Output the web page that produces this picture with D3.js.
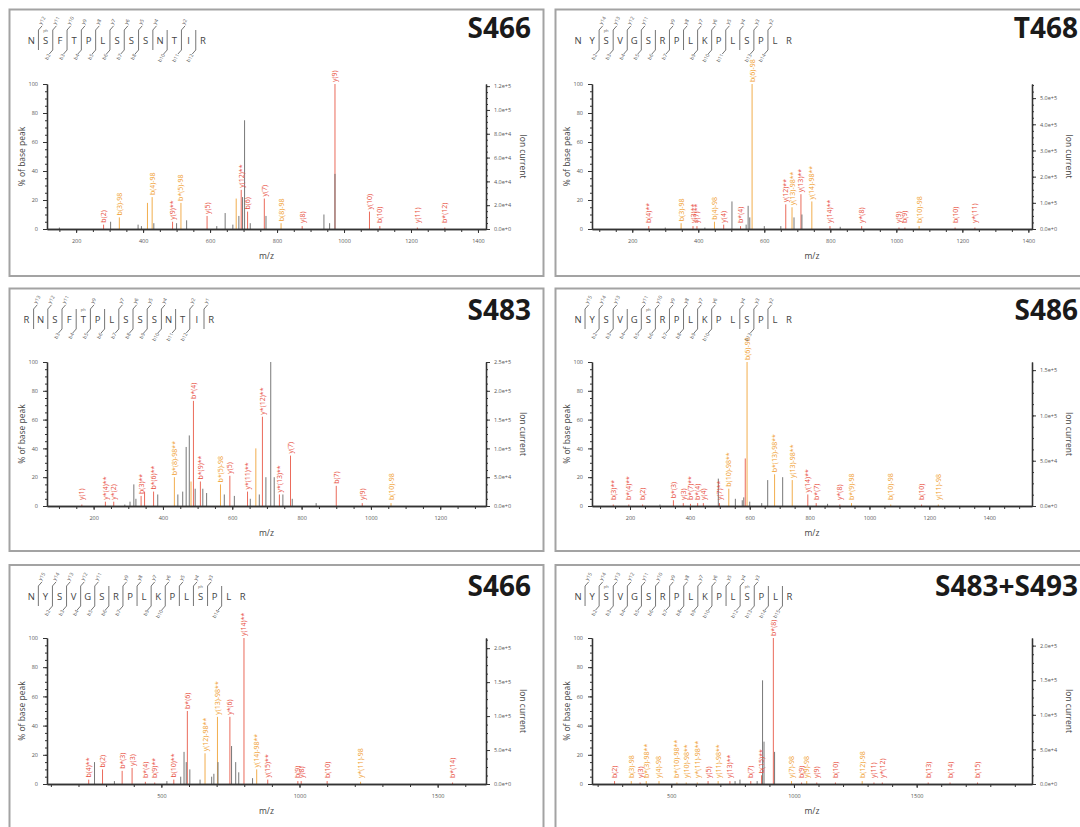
<!DOCTYPE html>
<html><head><meta charset="utf-8">
<script src="https://cdn.jsdelivr.net/npm/d3@7"></script>
<style>body{margin:0;background:#fff}svg{display:block}</style>
</head><body>
<svg id="c" width="1080" height="827"></svg>
<script>
// ---------------- DATA ----------------
const titles = ["S466", "T468", "S483", "S486", "S466", "S483+S493"];
const sequences = ["NSFTPLSSSNTIR", "NYSVGSRPLKPLSPLR", "RNSFTPLSSSNTIR",
                   "NYSVGSRPLKPLSPLR", "NYSVGSRPLKPLSPLR", "NYSVGSRPLKPLSPLR"];
const phosphoSites = [[2], [3], [5], [6], [13], [3, 13]];
const bIons = [[2,3,4,5,6,7,8,10,11,12], [2,3,4,5,6,7,9,10,11,13,14], [3,4,5,6,7,8,9,10,11,12],
               [2,3,4,5,6,7,8,9,10,13], [2,3,4,5,6,7,9,10,14], [2,3,4,5,6,7,8,9,10,12,13,14,15]];
const yIons = [[12,11,10,9,8,7,6,5,4,2], [14,13,12,11,9,8,7,6,5,4,3,2], [13,12,11,9,7,6,5,4,2,1],
               [15,14,13,11,10,9,8,7,6,4,3,2], [15,14,13,12,11,9,8,7,6,5,4,3], [15,14,13,12,11,10,9,8,7,6,5,4,3]];
const mzDomains = [[113,1424], [78,1411], [65.5,1332], [73,1543], [86,1675], [177,1970]];
const mzMajorStep = [200, 200, 200, 200, 500, 500];
const mzMinorStep = [50, 50, 50, 50, 100, 100];
const ionCurrentAt100 = [1.218e5, 5.54e5, 2.5e5, 1.59e5, 2.15e5, 2.11e5];
const ionCurrentStep = [2e4, 1e5, 5e4, 5e4, 5e4, 5e4];

// peaks: [m/z, % of base peak, kind ("ion" matched, "nl" neutral loss -98, "un" unmatched), label]
const peaks1 = [
 [150,1,"un",""],[282,3,"ion","b(2)"],[303,5,"un",""],[329,8,"nl","b(3)-98"],[385,3,"un",""],[395,2,"un",""],
 [413,18,"nl",""],[427,22,"nl","b(4)-98"],[432,4,"un",""],[488,5,"ion","y(9)**"],[500,4,"un",""],
 [513,18,"nl","b*(5)-98"],[530,6,"un",""],[591,9,"ion","y(5)"],[620,2,"un",""],[645,11,"un",""],[668,3,"un",""],
 [678,21,"nl",""],[686,9,"un",""],[693,27,"ion","y(12)**"],[697,22,"un",""],[703,75,"un",""],[712,12,"ion","b(6)"],
 [720,4,"un",""],[762,21,"ion","y(7)"],[767,9,"un",""],[812,4,"nl","b(8)-98"],[875,2,"ion","y(8)"],
 [940,10,"un",""],[957,4,"un",""],[973,100,"ion","y(9)"],[973,38,"un",""],[1076,12,"ion","y(10)"],
 [1107,2,"ion","b(10)"],[1219,1,"ion","y(11)"],[1301,1,"ion","b*(12)"]
];
const peaks2 = [
 [250,2,"ion","b(4)**"],[300,1,"un",""],[348,4,"nl","b(3)-98"],[384,2,"ion","y(3)**"],[396,2,"ion","y(7)**"],
 [420,1,"un",""],[449,5,"nl","b(4)-98"],[477,3,"ion","y(4)"],[502,19,"un",""],[528,2,"ion","b*(4)"],
 [545,3,"un",""],[551,16,"un",""],[556,8,"un",""],[563,100,"nl","b(6)-98"],[600,2,"un",""],[650,2,"un",""],
 [665,17,"ion","y(12)**"],[684,15,"nl","y(13)-98**"],[690,8,"un",""],[711,24,"ion","y(13)**"],[714,10,"un",""],
 [744,19,"nl","y(14)-98**"],[799,2,"ion","y(14)**"],[830,1.5,"un",""],[895,2,"ion","y*(8)"],[1008,1,"ion","y(9)"],
 [1026,1,"ion","b(9)"],[1069,2,"nl","b(10)-98"],[1178,1,"ion","b(10)"],[1238,1,"ion","y*(11)"]
];
const peaks3 = [
 [166,1,"ion","y(1)"],[234,3,"ion","y*(4)**"],[258,3,"ion","y*(2)"],[290,1,"un",""],[305,3,"un",""],[316,15,"un",""],
 [322,5,"un",""],[337,7,"ion","b(3)**"],[347,10,"ion",""],[373,10,"ion","b*(6)**"],[385,8,"un",""],
 [433,20,"nl","b*(8)-98**"],[443,8,"un",""],[457,10,"un",""],[467,41,"un",""],[476,49,"un",""],[481,17,"nl",""],
 [488,73,"ion","b*(4)"],[493,12,"un",""],[508,17,"ion","b*(9)**"],[515,12,"un",""],[526,9,"un",""],
 [566,15,"nl","b*(5)-98"],[577,8,"un",""],[593,21,"ion","y(5)"],[606,7,"un",""],[644,10,"ion","y*(11)**"],
 [652,5,"un",""],[668,40,"nl",""],[678,8,"un",""],[687,62,"ion","y*(12)**"],[697,20,"un",""],[711,100,"un",""],
 [721,20,"un",""],[736,8,"ion","y*(13)**"],[746,8,"un",""],[768,35,"ion","y(7)"],[773,5,"un",""],[842,2,"un",""],
 [900,14,"ion","b(7)"],[975,2,"ion","y(9)"],[1058,2,"nl","b(10)-98"]
];
const peaks4 = [
 [144,1,"ion","b(3)**"],[196,1,"ion","b*(4)**"],[242,1,"ion","b(2)"],[300,1,"un",""],[345,4,"ion","b*(3)"],
 [378,2,"ion","y(3)"],[402,1.5,"ion","b*(7)**"],[426,2,"ion","b*(4)"],[445,2,"ion","y(4)"],[495,19,"un",""],
 [499,2,"ion","y(7)**"],[530,12,"nl","b(10)-98**"],[552,5,"un",""],[575,4,"un",""],[580,6,"un",""],[585,33,"ion",""],
 [591,100,"nl","b(6)-98"],[600,3,"un",""],[640,2,"un",""],[660,18,"un",""],[683,22,"nl","b*(13)-98**"],
 [710,20,"un",""],[742,18,"nl","y(13)-98**"],[794,8,"ion","y(14)**"],[822,2,"ion","b*(7)"],[860,1.5,"un",""],
 [901,1,"ion","y*(8)"],[940,2,"nl","b*(9)-98"],[1071,1,"nl","b(10)-98"],[1174,1,"ion","b(10)"],[1230,1,"nl","y(11)-98"]
];
const peaks5 = [
 [237,3,"ion","b(4)**"],[258,15,"un",""],[287,10,"ion","b(2)"],[330,2,"un",""],[358,9,"ion","b*(3)"],
 [394,11,"ion","y(3)"],[442,1.5,"ion","b*(4)"],[476,1,"ion","b(9)**"],[520,2,"un",""],[545,3,"ion","b(10)**"],
 [570,5,"un",""],[582,22,"un",""],[590,15,"un",""],[594,50,"ion","b*(6)"],[603,10,"un",""],[640,3,"un",""],
 [658,21,"nl","y(12)-98**"],[682,5,"un",""],[690,7,"un",""],[703,46,"nl","y(13)-98**"],[705,15,"un",""],
 [748,46,"ion","y*(6)"],[754,26,"un",""],[769,15,"un",""],[780,8,"un",""],[799,100,"ion","y(14)**"],
 [830,4,"un",""],[845,10,"nl","y(14)-98**"],[885,3,"ion","y(15)**"],[994,2,"ion","b(9)"],[1006,2,"ion","y(8)"],
 [1100,2,"ion","b(10)"],[1221,1.5,"nl","y*(11)-98"],[1554,1,"ion","b*(14)"]
];
const peaks6 = [
 [269,2,"ion","b(2)"],[337,2,"nl","b(3)-98"],[373,1,"ion","y(3)"],[398,2,"nl","b*(3)-98**"],[450,2,"nl","y(4)-98"],
 [523,1,"nl","b*(10)-98**"],[561,1,"nl","y(10)-98**"],[606,1,"nl","y*(11)-98**"],[650,2,"ion","y(5)"],
 [691,2,"nl","y(11)-98**"],[739,2,"ion","y(13)**"],[760,2,"un",""],[780,3,"un",""],[824,2,"ion","b(7)"],
 [850,2,"un",""],[868,6,"ion","b(15)**"],[872,71,"un",""],[878,29,"un",""],[916,100,"ion","b*(8)"],
 [921,22,"un",""],[990,2,"nl","y(7)-98"],[1031,1,"ion","b(9)"],[1052,2,"nl","y(9)-98"],[1093,1,"ion","y(9)"],
 [1169,1,"ion","b(10)"],[1278,2,"nl","b(12)-98"],[1326,1,"ion","y(11)"],[1360,1,"ion","y*(12)"],
 [1547,1,"ion","b(13)"],[1636,1,"ion","b(14)"],[1748,1,"ion","b(15)"]
];
const allPeaks = [peaks1, peaks2, peaks3, peaks4, peaks5, peaks6];

// ---------------- LAYOUT / STYLE ----------------
const colX = [9.5, 555.5];
const rows = [
  {top: 9.5, bottom: 276, y100: 84, y0: 229, title: 38, seqY: 40},
  {top: 288.5, bottom: 551, y100: 362, y0: 506, title: 320, seqY: 319},
  {top: 565, bottom: 845, y100: 638, y0: 784, title: 596, seqY: 596}
];
const seqStart = [31.3, 578, 26.5, 578, 31.3, 578];
const seqStep = [14.3, 14.07, 14.2, 14.07, 14.1, 14.1];
const kindColor = {ion: "#e8523f", nl: "#f0a030", un: "#6a6a6a"};
const FONT = "'Open Sans', 'Liberation Sans', sans-serif";

const svg = d3.select("#c");

for (let i = 0; i < 6; i++) {
  const col = i % 2, row = rows[Math.floor(i / 2)];
  const bx = colX[col];
  const axL = col ? 592 : 47, axR = col ? 1032 : 486;
  const g = svg.append("g");

  // frame
  g.append("rect").attr("x", bx).attr("y", row.top)
    .attr("width", (col ? 1085 : 543.5) - bx).attr("height", row.bottom - row.top)
    .attr("fill", "#fff").attr("stroke", "#a3a3a3").attr("stroke-width", 2);

  // title
  g.append("text").attr("x", col ? 1078 : 531).attr("y", row.title)
    .attr("text-anchor", "end").attr("font-family", FONT).attr("font-weight", 700)
    .attr("font-size", 28).attr("fill", "#1a1a1a").text(titles[i]);

  // scales
  const x = d3.scaleLinear().domain(mzDomains[i]).range([axL, axR]);
  const y = d3.scaleLinear().domain([0, 100]).range([row.y0, row.y100]);
  const yIon = d3.scaleLinear().domain([0, ionCurrentAt100[i]]).range([row.y0, row.y100]);

  // peaks: colored first, grey on top
  const pk = allPeaks[i].slice().sort((a, b) => (a[2] === "un") - (b[2] === "un"));
  g.append("g").selectAll("line").data(pk).join("line")
    .attr("x1", d => x(d[0])).attr("x2", d => x(d[0]))
    .attr("y1", y(0)).attr("y2", d => y(d[1]))
    .attr("stroke", d => kindColor[d[2]]).attr("stroke-width", 1)
    .attr("opacity", d => d[2] === "un" ? 0.9 : 0.85);

  // peak labels
  g.append("g").selectAll("text").data(allPeaks[i].filter(d => d[3]))
    .join("text")
    .attr("transform", d => `translate(${x(d[0]) + 2.5},${Math.min(y(d[1]) - 2, y(0) - 6)}) rotate(-90)`)
    .attr("font-family", FONT).attr("font-size", 7).attr("fill", d => kindColor[d[2]])
    .text(d => d[3]);

  // axes
  const axStyle = sel => {
    sel.selectAll("path.domain").attr("stroke", "#333").attr("stroke-width", 1.3);
    sel.selectAll(".tick line").attr("stroke", "#333");
    sel.selectAll(".tick text").attr("font-family", FONT).attr("font-size", 5.5).attr("fill", "#555");
  };
  const majX = d3.range(Math.ceil(mzDomains[i][0] / mzMajorStep[i]) * mzMajorStep[i], mzDomains[i][1], mzMajorStep[i]);
  const minX = d3.range(Math.ceil(mzDomains[i][0] / mzMinorStep[i]) * mzMinorStep[i], mzDomains[i][1], mzMinorStep[i]);
  g.append("g").attr("transform", `translate(0,${row.y0})`)
    .call(d3.axisBottom(x).tickValues(minX).tickSize(3).tickSizeOuter(0).tickFormat(""))
    .call(axStyle);
  g.append("g").attr("transform", `translate(0,${row.y0})`)
    .call(d3.axisBottom(x).tickValues(majX).tickSize(4).tickSizeOuter(0).tickPadding(6).tickFormat(d3.format("d")))
    .call(axStyle);

  g.append("g").attr("transform", `translate(${axL},0)`)
    .call(d3.axisLeft(y).tickValues(d3.range(0, 101, 5)).tickSize(2).tickSizeOuter(0).tickFormat(""))
    .call(axStyle);
  g.append("g").attr("transform", `translate(${axL},0)`)
    .call(d3.axisLeft(y).tickValues(d3.range(0, 101, 20)).tickSize(4).tickSizeOuter(0).tickPadding(5))
    .call(axStyle);

  const ionMaj = d3.range(0, ionCurrentAt100[i] + 1, ionCurrentStep[i]);
  const ionMin = d3.range(0, ionCurrentAt100[i] + 1, ionCurrentStep[i] / 4);
  g.append("g").attr("transform", `translate(${axR},0)`)
    .call(d3.axisRight(yIon).tickValues(ionMin).tickSize(2).tickSizeOuter(0).tickFormat(""))
    .call(axStyle);
  g.append("g").attr("transform", `translate(${axR},0)`)
    .call(d3.axisRight(yIon).tickValues(ionMaj).tickSize(4).tickSizeOuter(0).tickPadding(4)
      .tickFormat(d => d.toExponential(1)))
    .call(axStyle);

  // axis titles
  const midY = (row.y0 + row.y100) / 2;
  g.append("text").attr("transform", `translate(${axL - 22},${midY}) rotate(-90)`)
    .attr("text-anchor", "middle").attr("font-family", FONT).attr("font-size", 8.5).attr("fill", "#444")
    .text("% of base peak");
  g.append("text").attr("transform", `translate(${axR + 34},${midY}) rotate(90)`)
    .attr("text-anchor", "middle").attr("font-family", FONT).attr("font-size", 8.5).attr("fill", "#444")
    .text("Ion current");
  g.append("text").attr("x", (axL + axR) / 2).attr("y", row.y0 + 30)
    .attr("text-anchor", "middle").attr("font-family", FONT).attr("font-size", 8.5).attr("fill", "#444")
    .text("m/z");

  // peptide sequence with fragment markers
  const seq = sequences[i].split("");
  const n = seq.length, cy = row.seqY;
  const lx = k => seqStart[i] + k * seqStep[i];
  const sg = g.append("g");
  sg.selectAll("text.res").data(seq).join("text").attr("class", "res")
    .attr("x", (d, k) => lx(k)).attr("y", cy + 3.5).attr("text-anchor", "middle")
    .attr("font-family", FONT).attr("font-size", 9.5).attr("fill", "#444").text(d => d);
  phosphoSites[i].forEach(p => {
    sg.append("text").attr("x", lx(p - 1)).attr("y", cy - 8).attr("text-anchor", "middle")
      .attr("font-family", FONT).attr("font-size", 4).attr("fill", "#555").text("ph");
  });
  for (let k = 1; k < n; k++) {
    const hasB = bIons[i].includes(k), hasY = yIons[i].includes(n - k);
    if (!hasB && !hasY) continue;
    const dx = (lx(k - 1) + lx(k)) / 2;
    sg.append("line").attr("x1", dx).attr("x2", dx).attr("y1", cy - 10).attr("y2", cy + 10)
      .attr("stroke", "#666").attr("stroke-width", 0.9);
    if (hasY) {
      sg.append("path").attr("d", `M${dx},${cy - 10}L${dx + 3.5},${cy - 14}`)
        .attr("stroke", "#666").attr("stroke-width", 0.9).attr("fill", "none");
      sg.append("text").attr("transform", `translate(${dx + 3},${cy - 15}) rotate(-60)`)
        .attr("font-family", FONT).attr("font-size", 5).attr("fill", "#555").text("y" + (n - k));
    }
    if (hasB) {
      sg.append("path").attr("d", `M${dx},${cy + 10}L${dx - 3.5},${cy + 14}`)
        .attr("stroke", "#666").attr("stroke-width", 0.9).attr("fill", "none");
      sg.append("text").attr("transform", `translate(${dx - 2},${cy + 15}) rotate(-60)`)
        .attr("text-anchor", "end").attr("font-family", FONT).attr("font-size", 5).attr("fill", "#555")
        .text("b" + k);
    }
  }
}
</script>
</body></html>
